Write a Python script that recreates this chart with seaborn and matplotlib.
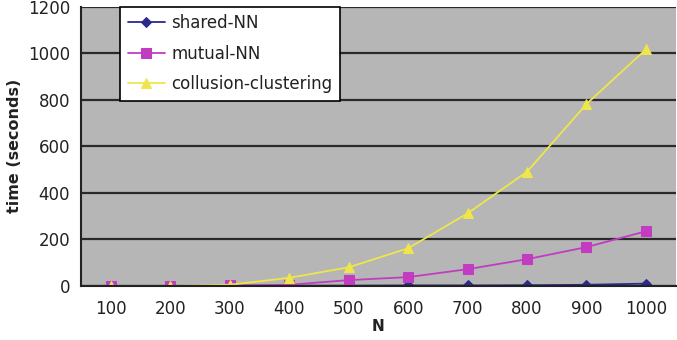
import matplotlib
matplotlib.use("Agg")
import matplotlib.pyplot as plt
from matplotlib.ticker import FixedLocator
import seaborn as sns
import pandas as pd

N = [100, 200, 300, 400, 500, 600, 700, 800, 900, 1000]
shared_nn = [0, 0, 0, 1, 1, 2, 2, 3, 5, 10]
mutual_nn = [0, 0, 2, 5, 25, 38, 72, 115, 167, 235]
collusion = [0, 0, 5, 35, 80, 162, 312, 491, 782, 1017]
series_names = ["shared-NN", "mutual-NN", "collusion-clustering"]
y_ticks = [0, 200, 400, 600, 800, 1000, 1200]

rows = []
for name, vals in zip(series_names, [shared_nn, mutual_nn, collusion]):
    for n, v in zip(N, vals):
        rows.append({"N": n, "time": v, "series": name})
df = pd.DataFrame(rows)

sns.set_theme(style="white")
plt.rcParams["font.family"] = ["DejaVu Sans"]

fig = plt.figure(figsize=(6.77, 3.40), dpi=100)
ax = fig.add_axes([0.12, 0.159, 0.878, 0.821])
ax.set_facecolor("#b6b6b6")

palette = {"shared-NN": "#2a2a8c", "mutual-NN": "#c23cc2", "collusion-clustering": "#eee64a"}
markers = {"shared-NN": "D", "mutual-NN": "s", "collusion-clustering": "^"}
sizes = {"shared-NN": 5, "mutual-NN": 7, "collusion-clustering": 7}

for name in series_names:
    sub = df[df["series"] == name]
    sns.lineplot(data=sub, x="N", y="time", ax=ax, color=palette[name],
                 marker=markers[name], markersize=sizes[name],
                 markeredgecolor=palette[name], linewidth=1.3, label=name)

ax.set_xlim(50, 1050)
ax.set_ylim(0, 1200)
ax.set_yticks(y_ticks)
ax.set_xticks(N)
ax.set_xticklabels([str(n) for n in N], fontsize=12, color="#222222")
ax.xaxis.set_minor_locator(FixedLocator([150 + 100 * i for i in range(9)]))
ax.tick_params(axis="x", which="major", length=0, pad=10)
ax.tick_params(axis="x", which="minor", length=5, width=1.5, color="#222222", direction="out")
ax.tick_params(axis="y", which="major", length=6, width=1.5, color="#222222", direction="out",
               labelsize=12, labelcolor="#222222", pad=2)
ax.yaxis.grid(True, color="#2a2a2a", linewidth=1.6)
ax.xaxis.grid(False)
ax.set_axisbelow(True)

for s in ["top", "right"]:
    ax.spines[s].set_visible(False)
ax.spines["left"].set_color("#222222")
ax.spines["left"].set_linewidth(1.5)
ax.spines["bottom"].set_color("#222222")
ax.spines["bottom"].set_linewidth(1.5)

ax.set_xlabel("N", fontsize=11, fontweight="bold", labelpad=1, color="#222222")
ax.set_ylabel("time (seconds)", fontsize=11.5, fontweight="bold", labelpad=4, color="#222222")

leg = ax.legend(loc="upper left", bbox_to_anchor=(0.066, 1.0), frameon=True,
                fancybox=False, edgecolor="black", facecolor="white", framealpha=1,
                fontsize=12, handlelength=2.2, handletextpad=0.4, borderpad=0.45,
                labelspacing=0.75, borderaxespad=0)
leg.get_frame().set_linewidth(1.2)
for t in leg.get_texts():
    t.set_color("#222222")

fig.savefig("out.png", dpi=100)
